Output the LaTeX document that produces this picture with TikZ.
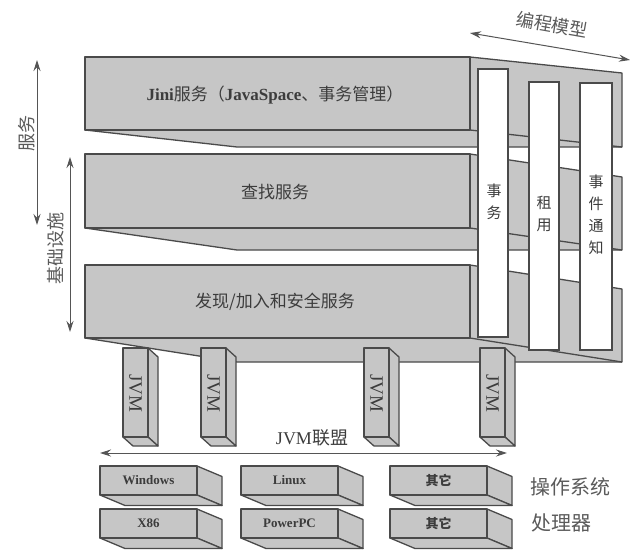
\documentclass[tikz,border=0pt]{standalone}
\usepackage{fontspec}
\setmainfont{Liberation Serif}
\newfontfamily\cjk{Noto Sans CJK SC}
\usetikzlibrary{arrows.meta}
\definecolor{slabgray}{HTML}{C6C6C6}
\definecolor{edgegray}{HTML}{4A4A4A}
\definecolor{arrowgray}{HTML}{555555}
\definecolor{txtgray}{HTML}{3C3C3C}
\definecolor{lblgray}{HTML}{5A5A5A}
\tikzset{
  face/.style={fill=slabgray, draw=edgegray, line width=1.3pt, line join=round},
  edgeline/.style={draw=edgegray, line width=1.3pt},
  barface/.style={fill=white, draw=edgegray, line width=1.3pt},
  dblarrow/.style={{Stealth[length=11pt,width=7pt]}-{Stealth[length=11pt,width=7pt]}, draw=arrowgray, line width=1pt},
  slabtxt/.style={font=\cjk\fontsize{17}{20}\selectfont, text=txtgray, inner sep=0pt},
  bartxt/.style={font=\cjk\fontsize{15}{22}\selectfont, text=txtgray, align=center, inner sep=0pt},
  lbl/.style={font=\cjk\fontsize{18}{20}\selectfont, text=lblgray, inner sep=0pt},
  jvmtxt/.style={font=\fontsize{19}{20}\selectfont, text=txtgray, rotate=-90, inner sep=0pt},
  boxtxt/.style={font=\bfseries\fontsize{13}{14}\selectfont, text=txtgray, inner sep=0pt},
  boxcjk/.style={font=\cjk\bfseries\fontsize{13}{14}\selectfont, text=txtgray, inner sep=0pt},
}
% slab: #1 top, #2 front bottom, #3 right top, #4 lower
\newcommand\drawslab[4]{%
  \path[face] (85,#1) -- (470,#1) -- (622,#3) -- (622,#4) -- (237,#4) -- (85,#2) -- cycle;
  \path[face] (85,#1) rectangle (470,#2);
  \draw[edgeline] (470,#2) -- (622,#4);
}
% jvm column at x=#1
\newcommand\jvmcol[3]{%
  \path[face] ({#1+25},348) -- ({#1+35},357) -- ({#1+35},446) -- ({#1+25},437) -- cycle;
  \path[face] (#1,437) -- ({#1+25},437) -- ({#1+35},446) -- ({#1+10},446) -- cycle;
  \path[face] (#1,348) rectangle ({#1+25},437);
  \node[jvmtxt] (#2) at ({#1+12.5},393) {#3};
}
% os / cpu box at (#1,#2)
\newcommand\osbox[5]{%
  \path[face] ({#1+97},#2) -- ({#1+122},{#2+10.5}) -- ({#1+122},{#2+39.5}) -- ({#1+97},{#2+29}) -- cycle;
  \path[face] (#1,{#2+29}) -- ({#1+97},{#2+29}) -- ({#1+122},{#2+39.5}) -- ({#1+25},{#2+39.5}) -- cycle;
  \path[face] (#1,#2) rectangle ({#1+97},{#2+29});
  \node[#5] (#3) at ({#1+48.5},{#2+14.5}) {#4};
}
\begin{document}
\begin{tikzpicture}[x=1pt,y=-1pt]
\useasboundingbox (0,0) rectangle (632,549);
\fill[white] (0,0) rectangle (632,549);

% slabs
\drawslab{57}{130}{73}{147}
\drawslab{154}{228}{177}{250}
\drawslab{265}{338}{289}{362}

% vertical bars
\path[barface] (478,69) rectangle (508,337);
\path[barface] (529,82) rectangle (559,350);
\path[barface] (580,83) rectangle (612,350);

% slab texts
\node[slabtxt] (jini) at (275,95) {{\rmfamily\bfseries Jini}服务（{\rmfamily\bfseries JavaSpace}、事务管理）};
\node[slabtxt] (lookup) at (275,192) {查找服务};
\node[slabtxt] (discover) at (275,302) {发现/加入和安全服务};

% bar texts
\node[bartxt] (tx) at (494,202) {事\\务};
\node[bartxt] (lease) at (544,214) {租\\用};
\node[bartxt] (event) at (596,215) {事\\件\\通\\知};

% JVM columns
\jvmcol{123}{jvma}{JVM}
\jvmcol{201}{jvmb}{JVM}
\jvmcol{364}{jvmc}{JVM}
\jvmcol{480}{jvmd}{JVM}

% JVM federation arrow
\coordinate (fedL) at (100,453);
\coordinate (fedR) at (507,453);
\draw[dblarrow] (fedL) -- (fedR);
\node[font=\fontsize{18}{20}\selectfont, text=txtgray, inner sep=0pt] (fed) at (312,438) {JVM{\cjk 联盟}};

% OS and CPU boxes
\osbox{100}{466}{win}{Windows}{boxtxt}
\osbox{241}{466}{linux}{Linux}{boxtxt}
\osbox{390}{466}{other1}{其它}{boxcjk}
\osbox{100}{509}{x86}{X86}{boxtxt}
\osbox{241}{509}{ppc}{PowerPC}{boxtxt}
\osbox{390}{509}{other2}{其它}{boxcjk}

\node[lbl, font=\cjk\fontsize{20}{22}\selectfont] (os) at (570,487) {操作系统};
\node[lbl, font=\cjk\fontsize{20}{22}\selectfont] (cpu) at (561,523) {处理器};

% left arrows
\coordinate (svcT) at (37,60);
\coordinate (svcB) at (37,225);
\draw[dblarrow] (svcT) -- (svcB);
\node[lbl, rotate=90] (svc) at (27,133) {服务};
\coordinate (infT) at (70,157);
\coordinate (infB) at (70,332);
\draw[dblarrow] (infT) -- (infB);
\node[lbl, rotate=90] (inf) at (56,248) {基础设施};

% programming model arrow
\coordinate (pmL) at (470,33);
\coordinate (pmR) at (630,60);
\draw[dblarrow] (pmL) -- (pmR);
\node[lbl, rotate=-10] (pm) at (552,25) {编程模型};
\end{tikzpicture}
\end{document}
